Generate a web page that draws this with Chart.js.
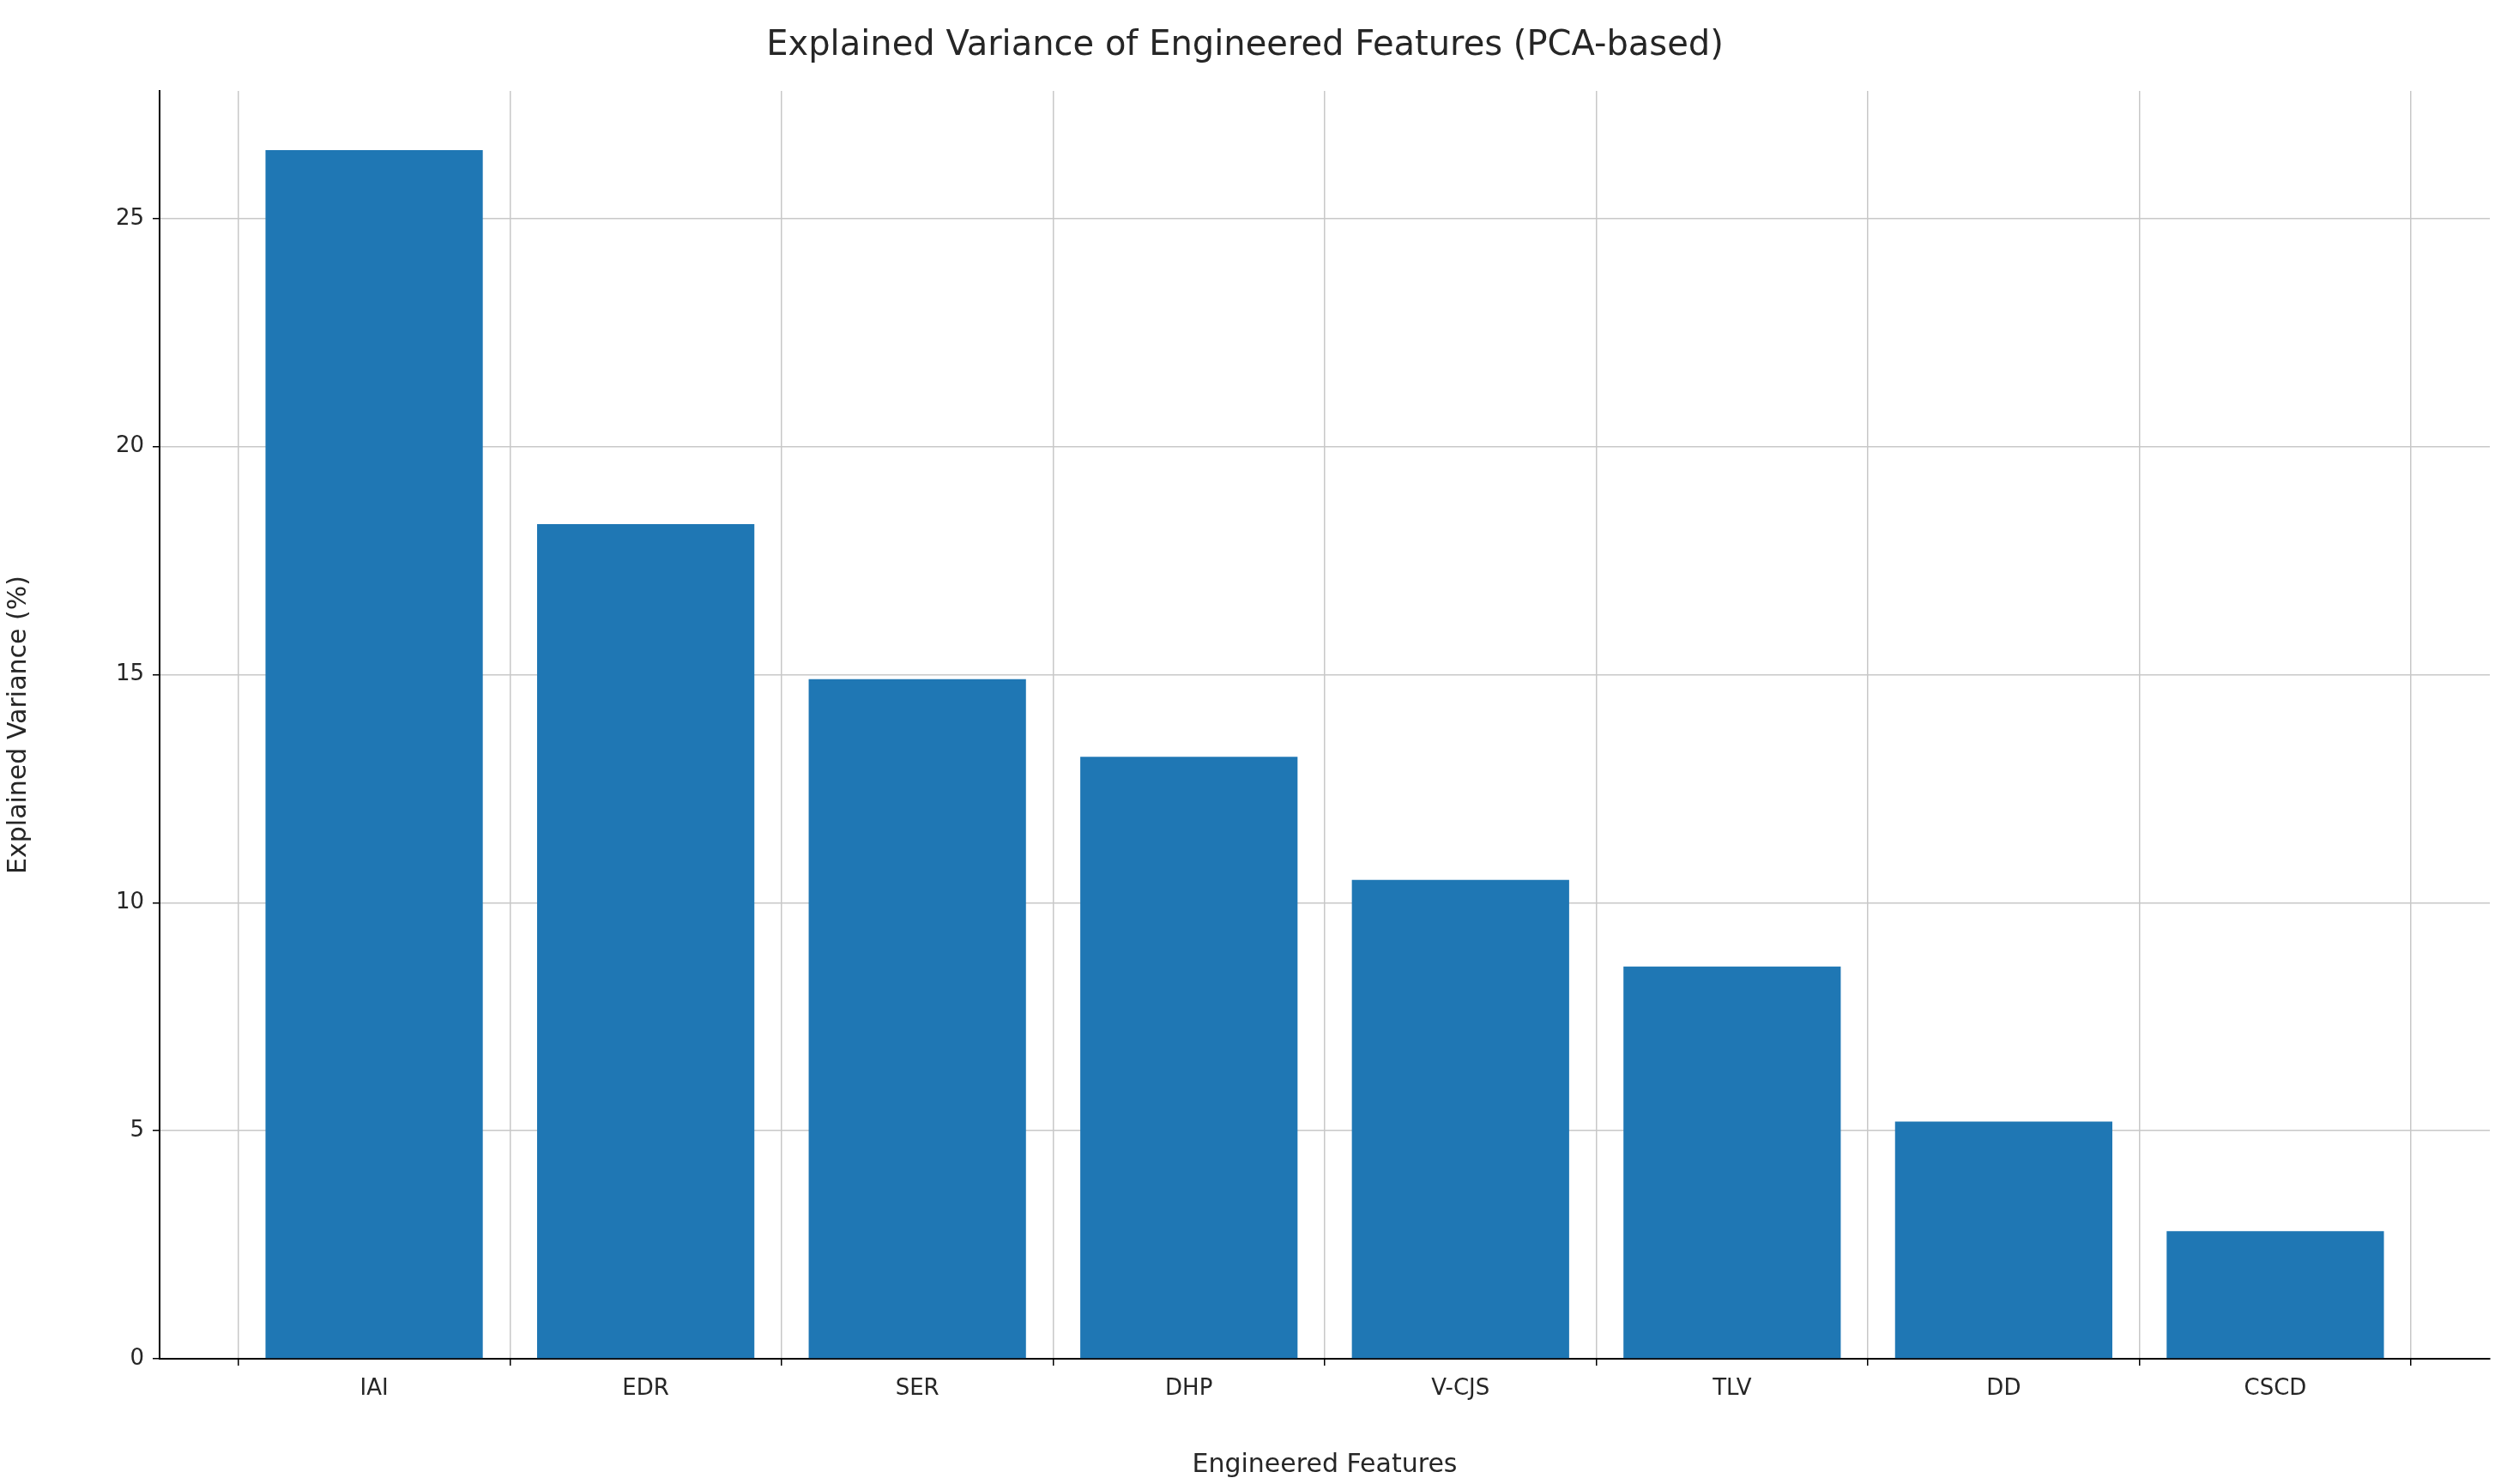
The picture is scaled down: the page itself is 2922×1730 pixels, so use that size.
<!DOCTYPE html>
<html><head><meta charset="utf-8">
<script src="https://cdn.jsdelivr.net/npm/chart.js@4/dist/chart.umd.min.js"></script>
<style>html,body{margin:0;padding:0;background:#fff}canvas{display:block}</style>
</head><body>
<canvas id="c" width="2922" height="1730" style="width:2922px;height:1730px"></canvas>
<script>
const categories = ["IAI","EDR","SER","DHP","V-CJS","TLV","DD","CSCD"];
const values = [26.5, 18.3, 14.9, 13.2, 10.5, 8.6, 5.2, 2.8];
const yTicks = [0, 5, 10, 15, 20, 25];
const font = "DejaVu Sans";
const txt = "#262626";
new Chart(document.getElementById("c"), {
  type: "bar",
  data: { datasets: [{ data: values.map((v,i)=>({x:i,y:v})), backgroundColor: "#1f77b4", barPercentage: 0.8, categoryPercentage: 1 }] },
  options: {
    responsive: false, devicePixelRatio: 1, animation: false,
    layout: { padding: { left: 0, right: 20, top: 0, bottom: 0 } },
    plugins: {
      legend: { display: false }, tooltip: { enabled: false },
      title: { display: true, text: "Explained Variance of Engineered Features (PCA-based)", color: txt,
        font: { family: font, size: 40, weight: "normal", lineHeight: 1.2 }, padding: { top: 30, bottom: 28 } }
    },
    scales: {
      x: { type: "linear", min: -0.79, max: 7.79, offset: false,
        afterBuildTicks: s => { s.ticks = categories.map((_, i) => ({ value: i })); },
        afterFit: s => { s.height = 146; },
        ticks: { callback: v => categories[v] ?? "", color: txt, font: { family: font, size: 26 }, padding: 12, maxRotation: 0 },
        grid: { color: "#c8c8c8", borderDash: [6, 4], lineWidth: 1.5, drawTicks: true, tickColor: "#000", tickLength: 8 },
        border: { display: true, color: "#000", width: 2 },
        title: { display: true, text: "Engineered Features", color: txt, font: { family: font, size: 30 }, padding: { top: 6 } }
      },
      y: { min: 0, max: 27.8,
        afterBuildTicks: s => { s.ticks = yTicks.map(v => ({ value: v })); },
        afterFit: s => { s.width = 186; },
        ticks: { color: txt, font: { family: font, size: 26 }, padding: 10 },
        grid: { color: "#c8c8c8", borderDash: [6, 4], lineWidth: 1.5, tickColor: "#000", tickLength: 8 },
        border: { display: true, color: "#000", width: 2 },
        title: { display: true, text: "Explained Variance (%)", color: txt, font: { family: font, size: 30 }, padding: { bottom: 6 } }
      }
    }
  }
});
</script>
</body></html>
